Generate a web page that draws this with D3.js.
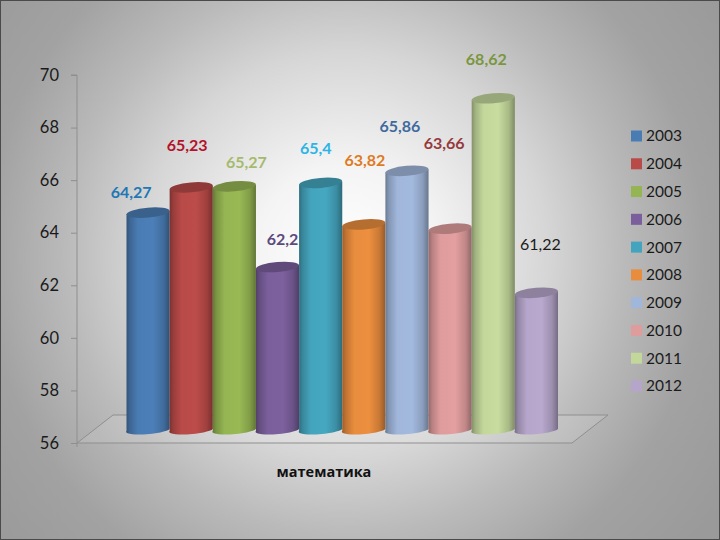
<!DOCTYPE html>
<html><head><meta charset="utf-8">
<script src="https://cdn.jsdelivr.net/npm/d3@7/dist/d3.min.js"></script>
<style>html,body{margin:0;padding:0;background:#999}svg{display:block}</style>
</head><body><svg id="c" width="720" height="540"></svg>
<script>
const years=["2003","2004","2005","2006","2007","2008","2009","2010","2011","2012"];
const values=[64.27,65.23,65.27,62.2,65.4,63.82,65.86,63.66,68.62,61.22];
const labels=["64,27","65,23","65,27","62,2","65,4","63,82","65,86","63,66","68,62","61,22"];
const barColors=["#4a7cb4","#b84a48","#95b552","#7a5f9c","#44a4bd","#e88c3e","#a0b6da","#df9c9d","#c3d79b","#b5a5ca"];
const labelColors=["#2277b5","#b2122a","#a5ba6c","#5c4a7c","#2db4e6","#e07a1e","#3f6a9e","#953a3c","#7a9640","#1a1a1a"];
const yTicks=[56,58,60,62,64,66,68,70];
const labelDx=[-17,-4,12,5,-5,1,-7,-6,-7,4];
const labelDy=[-16,-37,-19,-23,-30,-59,-40,-81,-34,-44];
const xAxisTitle="математика";

const svg=d3.select("#c");
const W=720,H=540;
const NUM="Lato, 'Open Sans', sans-serif";
const defs=svg.append("defs");
const bg=defs.append("radialGradient").attr("id","bg").attr("gradientUnits","userSpaceOnUse")
 .attr("cx",345).attr("cy",255).attr("r",450);
[[0,"#ffffff"],[.2,"#f4f4f4"],[.45,"#d6d6d6"],[.62,"#bababa"],[.8,"#a2a2a2"],[1,"#9a9a9a"]].forEach(s=>bg.append("stop").attr("offset",s[0]).attr("stop-color",s[1]));
svg.append("rect").attr("width",W).attr("height",H).attr("fill","url(#bg)");
svg.append("rect").attr("x",.5).attr("y",.5).attr("width",W-1).attr("height",H-1).attr("fill","none").attr("stroke","#4a4a4a");

const y=d3.scaleLinear().domain([56,70]).range([443,75]);
const depthY=13, floorBackY=415, floorDx=36;
const x=d3.scaleBand().domain(years).range([126.5,558]).padding(0);
const color=d3.scaleOrdinal().domain(years).range(barColors);

// floor
const fl=[[77,443],[77+floorDx,floorBackY],[608,floorBackY],[572,443]];
svg.append("path").attr("d",d3.line()(fl)+"Z").attr("fill","#ffffff").attr("fill-opacity",.1)
 .attr("stroke","#8f8f8f").attr("stroke-width",1);

// axis
const axis=d3.axisLeft(y).tickValues(yTicks).tickSize(6).tickPadding(12);
const ag=svg.append("g").attr("transform","translate(77,0)").call(axis);
ag.selectAll("path,line").attr("stroke","#8f8f8f");
ag.select("path").attr("d","M-6,75H0V447");
ag.selectAll("text").attr("font-family",NUM).attr("font-size",16.5).attr("fill","#1a1a1a");

// data labels (behind the bars)
svg.selectAll("text.dl").data(labels).join("text").attr("class","dl")
 .attr("x",(d,i)=>x(years[i])+x.bandwidth()/2+labelDx[i]).attr("y",(d,i)=>y(values[i])-12+labelDy[i])
 .attr("text-anchor","middle").attr("font-family",NUM).attr("font-size",16)
 .attr("font-weight",(d,i)=>i===9?400:700).attr("fill",(d,i)=>labelColors[i]).text(d=>d);

// bars
const rx=x.bandwidth()/2, ry=5, tilt=-5;
years.forEach((yr,i)=>{
 const c=d3.color(barColors[i]);
 const g=defs.append("linearGradient").attr("id","g"+i);
 [[0,c.darker(1.2)],[.09,c.darker(.55)],[.28,c],[.62,c.brighter(.06)],[.86,c.darker(.4)],[1,c.darker(1.2)]]
  .forEach(s=>g.append("stop").attr("offset",s[0]).attr("stop-color",s[1]));
});
const bars=svg.selectAll("g.bar").data(years.map((d,i)=>({year:d,value:values[i],i}))).join("g").attr("class","bar");
bars.append("path").attr("fill",d=>`url(#g${d.i})`).attr("d",d=>{
 const x0=x(d.year),x1=x0+x.bandwidth(),t=y(d.value)-depthY,b=y(56)-depthY+1;
 return `M${x0},${t+1.5}L${x0},${b}A${rx},4 ${tilt} 0 0 ${x1},${b-2}L${x1},${t-1.5}Z`;
});
bars.append("ellipse").attr("rx",rx).attr("ry",ry)
 .attr("transform",d=>`translate(${x(d.year)+rx},${y(d.value)-depthY}) rotate(${tilt})`)
 .attr("fill",d=>d3.color(barColors[d.i]).darker(.7));

// legend
const ly=d3.scalePoint().domain(years).range([136,386]);
const lg=svg.selectAll("g.lg").data(years).join("g").attr("class","lg").attr("transform",d=>`translate(631,${ly(d)})`);
lg.append("rect").attr("y",-5.5).attr("width",11).attr("height",11).attr("fill",d=>color(d));
lg.append("text").attr("x",15).attr("dy","0.35em").attr("font-family",NUM).attr("font-size",15.5).attr("fill","#1a1a1a").text(d=>d);

svg.append("text").attr("x",324).attr("y",477).attr("text-anchor","middle")
 .attr("font-family","'Open Sans','Noto Sans',sans-serif").attr("font-weight",700).attr("font-size",14.5).attr("fill","#111").text(xAxisTitle);
</script></body></html>
